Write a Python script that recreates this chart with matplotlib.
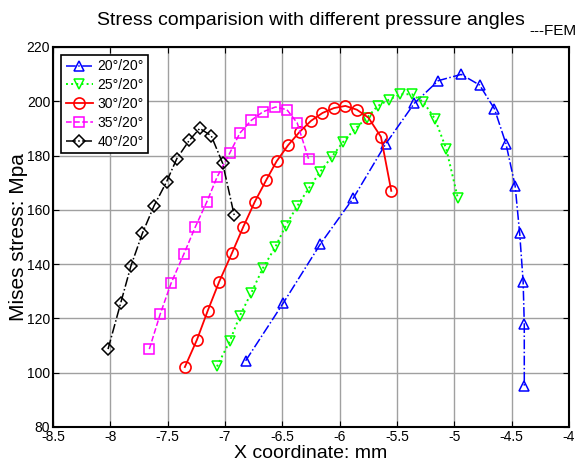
import numpy as np
import matplotlib
matplotlib.use('Agg')
import matplotlib.pyplot as plt
from matplotlib.ticker import FormatStrFormatter

plt.rcParams['font.family'] = ['Liberation Sans', 'DejaVu Sans']
plt.rcParams['axes.unicode_minus'] = False

# data
x20 = [-6.82, -6.49, -6.17, -5.88, -5.60, -5.35, -5.14, -4.94, -4.78, -4.65,
       -4.55, -4.47, -4.43, -4.40, -4.39, -4.39]
y20 = [104.4, 125.8, 147.3, 164.4, 184.2, 199.2, 207.6, 209.9, 206.0, 197.2,
       184.4, 168.9, 151.3, 133.6, 117.9, 95.0]

x25 = [-7.07, -6.96, -6.87, -6.77, -6.67, -6.56, -6.47, -6.37, -6.27, -6.17, -6.07,
       -5.97, -5.87, -5.76, -5.67, -5.57, -5.47, -5.37, -5.27, -5.17, -5.07, -4.97]
y25 = [102.3, 111.5, 121.0, 129.5, 138.5, 146.4, 154.2, 161.4, 167.9, 174.0, 179.5,
       185.0, 189.7, 194.0, 198.2, 200.6, 202.6, 202.6, 199.7, 193.6, 182.4, 164.4]

x30 = [-7.35, -7.245, -7.15, -7.05, -6.94, -6.84, -6.74, -6.64, -6.55, -6.45,
       -6.35, -6.25, -6.15, -6.05, -5.95, -5.85, -5.75, -5.64, -5.55]
y30 = [102.1, 112.1, 122.9, 133.6, 144.0, 153.8, 163.0, 171.0, 177.9, 183.8,
       188.7, 192.8, 195.7, 197.5, 198.3, 196.9, 194.0, 186.9, 167.0]

x35 = [-7.66, -7.565, -7.47, -7.36, -7.26, -7.16, -7.07, -6.96, -6.87, -6.77,
       -6.67, -6.56, -6.46, -6.37, -6.27]
y35 = [108.7, 121.6, 133.0, 143.6, 153.6, 162.8, 172.0, 180.8, 188.3, 193.0,
       196.1, 197.9, 196.9, 192.0, 178.6]

x40 = [-8.02, -7.91, -7.82, -7.72, -7.62, -7.51, -7.42, -7.31, -7.22, -7.12,
       -7.02, -6.92]
y40 = [108.7, 125.6, 139.4, 151.4, 161.4, 170.3, 178.9, 185.7, 190.0, 187.3,
       177.1, 158.1]

labels = ['20°/20°', '25°/20°', '30°/20°', '35°/20°', '40°/20°']
xticks = np.arange(-8.5, -3.99, 0.5)
yticks = np.arange(80, 221, 20)

fig = plt.figure(figsize=(5.79, 4.66), dpi=100)
ax = fig.add_axes([53/579, 39/466, 516/579, 380/466])

kw = dict(markerfacecolor='none', markersize=7, linewidth=1.1, markeredgewidth=1.1)
ax.plot(x20, y20, color='#0000ff', linestyle='-.', marker='^', label=labels[0], **kw)
ax.plot(x25, y25, color='#00ff00', linestyle=':', marker='v', label=labels[1], linewidth=1.4,
        markerfacecolor='none', markersize=7, markeredgewidth=1.1)
ax.plot(x30, y30, color='#ff0000', linestyle='-', marker='o', label=labels[2],
        markerfacecolor='none', markersize=8, linewidth=1.3, markeredgewidth=1.2)
ax.plot(x35, y35, color='#ff00ff', linestyle='--', marker='s', label=labels[3], **kw)
ax.plot(x40, y40, color='black', linestyle='-.', marker='D', label=labels[4],
        markerfacecolor='none', markersize=6, linewidth=1.1, markeredgewidth=1.1)

ax.set_xlim(-8.5, -4)
ax.set_ylim(80, 220)
ax.set_xticks(xticks)
ax.set_yticks(yticks)
ax.xaxis.set_major_formatter(FormatStrFormatter('%g'))
ax.yaxis.set_major_formatter(FormatStrFormatter('%g'))
ax.tick_params(direction='in', top=True, right=True, length=4, labelsize=10, pad=2)
ax.grid(True, color='#a0a0a0', linewidth=1)
ax.set_axisbelow(True)
for s in ax.spines.values():
    s.set_linewidth(1.5)

ax.set_xlabel('X coordinate: mm', fontsize=14, labelpad=1)
ax.set_ylabel('Mises stress: Mpa', fontsize=15)
ax.yaxis.set_label_coords(-0.048, 0.5)

# title with the small lowered "---FEM" tail
fig.text(0.537, 0.946, 'Stress comparision with different pressure angles', fontsize=14,
         ha='center', va='baseline')
fig.text(0.914, 0.925, '---FEM', fontsize=11, ha='left', va='baseline')

leg = ax.legend(loc='upper left', fontsize=10, frameon=True, fancybox=False,
                edgecolor='black', framealpha=1, borderpad=0.3, labelspacing=0.35,
                handlelength=2.0, handletextpad=0.3, borderaxespad=0.6)
leg.get_frame().set_linewidth(1.2)

fig.savefig('out.png', dpi=100)
